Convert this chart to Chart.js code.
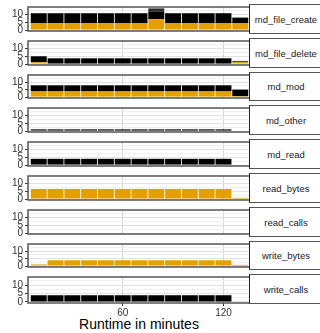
<!DOCTYPE html>
<html>
<head>
<meta charset="utf-8">
<script src="https://cdn.jsdelivr.net/npm/chart.js@4/dist/chart.umd.min.js"></script>
<style>
  body { margin: 0; background: #fff; }
  #wrap { position: relative; width: 320px; height: 333px; overflow: hidden; font-family: "Liberation Sans", Arial, sans-serif; }
  canvas { position: absolute; left: 0; }
  .strip { position: absolute; left: 249px; width: 80px; box-sizing: border-box; background: #fff;
           border-top: 1.5px solid #555; border-bottom: 1.5px solid #555; border-left: 1.5px solid #222;
           display: flex; align-items: center; font-size: 9.5px; color: #1a1a1a; }
  .strip span { display: block; width: 72px; text-align: center; white-space: nowrap; }
  #xtitle { position: absolute; left: 28px; width: 222px; top: 316px; text-align: center; font-size: 14px; color: #000; }
</style>
</head>
<body>
<div id="wrap"><div id="xtitle">Runtime in minutes</div></div>
<script>
// Runtime bins (minutes)
const minutes = [10, 20, 30, 40, 50, 60, 70, 80, 90, 100, 110, 120, 130];
const xTicks = [60, 120];
const yTicks = [0, 2.5, 5, 7.5, 10, 12.5];

// Values per facet (gold at the bottom, black stacked above)
const mdFileCreateGold  = [4.3, 4.3, 4.3, 4.3, 4.3, 4.3, 4.3, 7.0, 4.3, 4.3, 4.3, 4.3, 4.3];
const mdFileCreateBlack = [6.5, 6.5, 6.5, 6.5, 6.5, 6.5, 6.5, 5.0, 6.5, 6.5, 6.5, 6.5, 3.7];
const mdFileCreateGrey  = [0, 0, 0, 0, 0, 0, 0, 1.9, 0, 0, 0, 0, 0];
const mdFileDeleteGold  = [1.2, 0, 0, 0, 0, 0, 0, 0, 0, 0, 0, 0, 1.2];
const mdFileDeleteBlack = [3.8, 3.7, 3.7, 3.7, 3.7, 3.7, 3.7, 3.7, 3.7, 3.7, 3.7, 3.7, 0.6];
const mdModGold  = [3.8, 3.8, 3.8, 3.8, 3.8, 3.8, 3.8, 3.8, 3.8, 3.8, 3.8, 3.8, 0.6];
const mdModBlack = [4.1, 4.1, 4.1, 4.1, 4.1, 4.1, 4.1, 4.1, 4.1, 4.1, 4.1, 4.1, 4.4];
const mdOtherBlack = [1.1, 1.1, 1.1, 1.1, 1.1, 1.1, 1.1, 1.1, 1.1, 1.1, 1.1, 1.1, 0];
const mdReadBlack  = [4.0, 4.0, 4.0, 4.0, 4.0, 4.0, 4.0, 4.0, 4.0, 4.0, 4.0, 4.0, 0];
const readBytesGold = [6.5, 6.5, 6.5, 6.5, 6.5, 6.5, 6.5, 6.5, 6.5, 6.5, 6.5, 6.5, 0.8];
const readCallsBlack = [0, 0, 0, 0, 0, 0, 0, 0, 0, 0, 0, 0, 0];
const writeBytesGold = [1.1, 3.9, 3.9, 3.9, 3.9, 3.9, 3.9, 3.9, 3.9, 3.9, 3.9, 3.9, 0.8];
const writeCallsBlack = [4.0, 4.0, 4.0, 4.0, 4.0, 4.0, 4.0, 4.0, 4.0, 4.0, 4.0, 4.0, 0];

const facets = [
  { name: 'md_file_create', gold: mdFileCreateGold, black: mdFileCreateBlack, grey: mdFileCreateGrey },
  { name: 'md_file_delete', gold: mdFileDeleteGold, black: mdFileDeleteBlack },
  { name: 'md_mod', gold: mdModGold, black: mdModBlack },
  { name: 'md_other', black: mdOtherBlack },
  { name: 'md_read', black: mdReadBlack },
  { name: 'read_bytes', gold: readBytesGold },
  { name: 'read_calls', black: readCallsBlack },
  { name: 'write_bytes', gold: writeBytesGold },
  { name: 'write_calls', black: writeCallsBlack }
];

Chart.defaults.font.family = '"Liberation Sans", Arial, sans-serif';
Chart.defaults.font.size = 10;
Chart.defaults.color = '#333';

// Draws the grey frame around each panel
const panelBorder = {
  id: 'panelBorder',
  afterDraw(chart) {
    const a = chart.chartArea, c = chart.ctx;
    c.save();
    c.strokeStyle = '#555';
    c.lineWidth = 1.5;
    c.strokeRect(a.left, a.top, a.right - a.left, a.bottom - a.top);
    c.restore();
  }
};

function toPoints(arr) {
  return arr.map((v, i) => ({ x: minutes[i], y: v }));
}

const wrap = document.getElementById('wrap');
const pad = 6;

facets.forEach((f, i) => {
  const top = Math.round(5 + 33.8 * i);
  const bottom = Math.round(32.8 + 33.8 * i);
  const last = i === facets.length - 1;
  const xHeight = last ? 30 : 0;
  const h = bottom - top + pad + (last ? xHeight : pad);

  const canvas = document.createElement('canvas');
  canvas.width = 250;
  canvas.height = h;
  canvas.style.top = (top - pad) + 'px';
  wrap.appendChild(canvas);

  const strip = document.createElement('div');
  strip.className = 'strip';
  strip.style.top = (top - 0.75) + 'px';
  strip.style.height = (bottom - top + 1.5) + 'px';
  strip.innerHTML = '<span>' + f.name + '</span>';
  wrap.appendChild(strip);

  const datasets = [];
  if (f.gold) datasets.push({ data: toPoints(f.gold), backgroundColor: '#E69F00' });
  if (f.black) datasets.push({ data: toPoints(f.black), backgroundColor: '#000000' });
  if (f.grey) datasets.push({ data: toPoints(f.grey), backgroundColor: '#2e2e2e' });

  new Chart(canvas, {
    type: 'bar',
    data: { datasets: datasets },
    options: {
      responsive: false,
      animation: false,
      layout: { padding: { top: pad, bottom: last ? 0 : pad, left: 0, right: 0 } },
      plugins: { legend: { display: false }, tooltip: { enabled: false } },
      datasets: { bar: { barPercentage: 0.95, categoryPercentage: 1, borderWidth: 0 } },
      scales: {
        x: {
          type: 'linear',
          stacked: true,
          offset: false,
          min: 3.6,
          max: 135.8,
          afterBuildTicks: s => { s.ticks = xTicks.map(v => ({ value: v })); },
          afterFit: s => { s.height = xHeight; },
          border: { display: false },
          grid: { offset: false, color: '#d4d4d4', drawTicks: last, tickLength: 3, tickColor: '#333' },
          ticks: { display: last, autoSkip: false, padding: 1, color: '#333', maxRotation: 0 }
        },
        y: {
          stacked: true,
          min: -0.6,
          max: 14.8,
          afterBuildTicks: s => { s.ticks = yTicks.map(v => ({ value: v })); },
          afterFit: s => { s.width = 28; },
          border: { display: false },
          grid: {
            color: c => (c.tick && c.tick.value % 5 === 0) ? '#e2e2e2' : '#f0f0f0',
            tickColor: c => (c.tick && c.tick.value % 5 === 0) ? '#333' : 'rgba(0,0,0,0)',
            tickLength: 3
          },
          ticks: {
            autoSkip: false,
            padding: 2,
            color: '#333',
            callback: v => (v % 5 === 0 ? String(v) : '')
          }
        }
      }
    },
    plugins: [panelBorder]
  });
});
</script>
</body>
</html>
